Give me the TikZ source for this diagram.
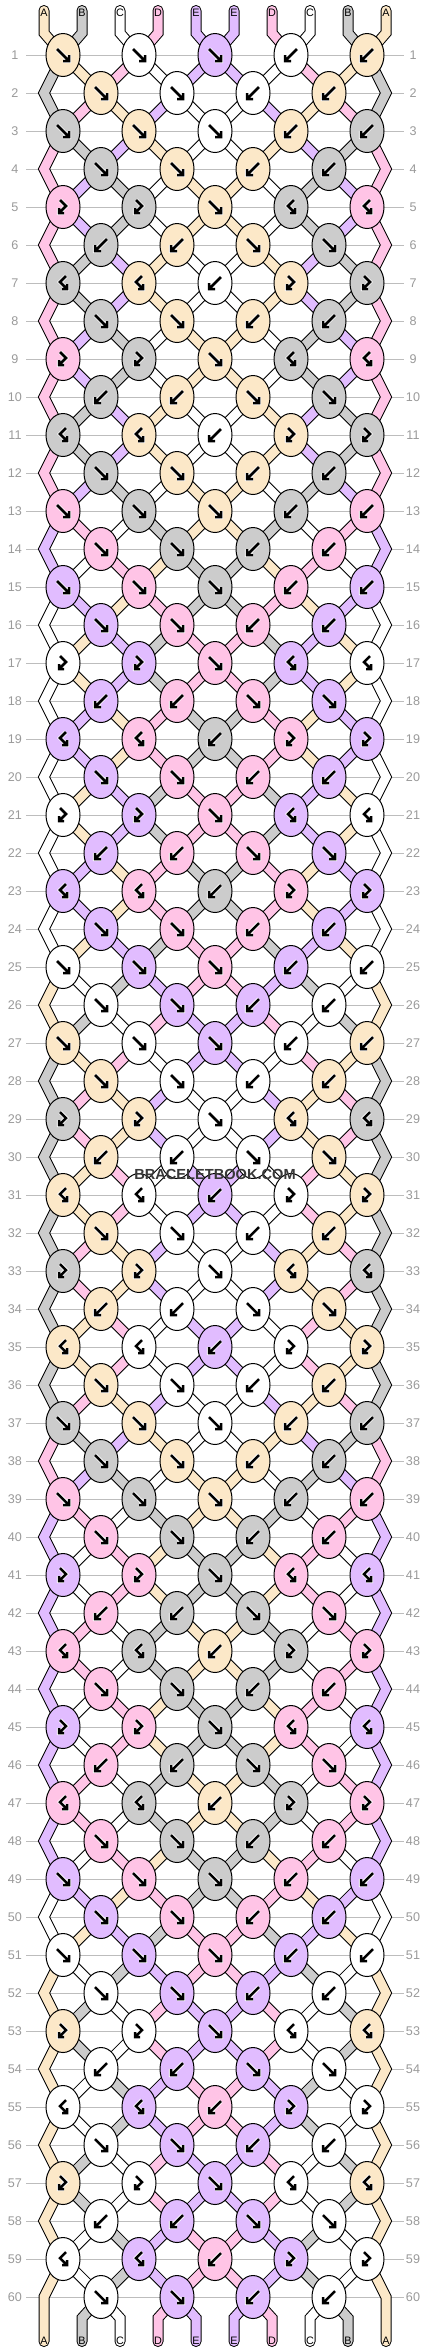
\documentclass[tikz,border=0pt]{standalone}
\usepackage{fontspec}
\setmainfont{Liberation Sans}
\usetikzlibrary{shapes.geometric}
\definecolor{cA}{HTML}{FCE8C8}
\definecolor{cB}{HTML}{CCCCCC}
\definecolor{cC}{HTML}{FFFFFF}
\definecolor{cD}{HTML}{FFC4E6}
\definecolor{cE}{HTML}{E1BCFF}
\definecolor{rowgray}{HTML}{BDBDBD}
\definecolor{numgray}{HTML}{9A9A9A}
\newcommand\arrowpath[1]{\draw[halo] #1; \draw[arr] #1;}
\newcommand\drawarrow[1]{%
  \ifcase#1\relax
  \or \arrowpath{(-6,-6) -- (6,6) (6,0) -- (6,6) -- (0,6)}%
  \or \arrowpath{(6,-6) -- (-6,6) (-6,0) -- (-6,6) -- (0,6)}%
  \or \arrowpath{(-3,-7) -- (3,-1) -- (-4,6) (-4,1) -- (-4,6) -- (1,6)}%
  \or \arrowpath{(3,-7) -- (-3,-1) -- (4,6) (4,1) -- (4,6) -- (-1,6)}%
  \fi}
\newcommand\allbands[1]{%
  \foreach \p in {0,...,9}{%
    \pgfmathtruncatemacro\ja{floor(\p/2)}%
    \edef\segc{\csname s-0-\p\endcsname}%
    \draw[#1=\segc] (top-\p) -- (tb-\p) -- (k-1-\ja);}%
  \foreach \r in {1,...,59}{%
    \pgfmathtruncatemacro\rn{\r+1}%
    \pgfmathtruncatemacro\rodd{mod(\r,2)}%
    \foreach \p in {1,...,8}{%
      \pgfmathtruncatemacro\ja{\rodd==1 ? floor(\p/2) : floor((\p-1)/2)}%
      \pgfmathtruncatemacro\jb{\rodd==1 ? floor((\p-1)/2) : floor(\p/2)}%
      \edef\segc{\csname s-\r-\p\endcsname}%
      \draw[#1=\segc] (k-\r-\ja) -- (k-\rn-\jb);}}%
  \foreach \e in {2,4,...,58}{%
    \pgfmathtruncatemacro\ea{\e-1}\pgfmathtruncatemacro\eb{\e+1}%
    \edef\segc{\csname s-\ea-0\endcsname}%
    \draw[#1=\segc] (k-\ea-0) -- (eL-\e) -- (k-\eb-0);
    \edef\segc{\csname s-\ea-9\endcsname}%
    \draw[#1=\segc] (k-\ea-4) -- (eR-\e) -- (k-\eb-4);}%
  \edef\segc{\csname s-59-0\endcsname}\draw[#1=\segc] (k-59-0) -- (eL-60) -- (bot-0);
  \edef\segc{\csname s-59-9\endcsname}\draw[#1=\segc] (k-59-4) -- (eR-60) -- (bot-9);
  \foreach \p in {1,...,8}{%
    \pgfmathtruncatemacro\ja{floor((\p-1)/2)}%
    \edef\segc{\csname s-60-\p\endcsname}%
    \draw[#1=\segc] (k-60-\ja) -- (bb-\p) -- (bot-\p);}%
}
\begin{document}
\begin{tikzpicture}[x=0.5pt,y=-0.5pt,
  outl/.style={draw=black,line width=5.5pt,line join=miter,line cap=round},
  bandc/.style={draw=c#1,line width=4.5pt,line join=miter,line cap=round},
  knot/.style={ellipse,draw=black,line width=0.5pt,minimum width=17pt,minimum height=21.5pt,inner sep=0pt},
  rowline/.style={draw=rowgray,line width=0.5pt},
  num/.style={text=numgray,font=\fontsize{6.3}{7}\selectfont,inner sep=0pt},
  lab/.style={text=black,font=\fontsize{5.4}{6}\selectfont,inner sep=0pt},
  halo/.style={draw=white,line width=2.1pt,line cap=butt,line join=miter},
  arr/.style={draw=black,line width=1.25pt,line cap=butt,line join=miter}]
\fill[white] (0,0) rectangle (430,2352);
\useasboundingbox (0,0) rectangle (430,2352);
% ---- simulate the threads ----
\foreach \p [count=\i from 0] in {A,B,C,D,E,E,D,C,B,A}{%
  \expandafter\xdef\csname th\i\endcsname{\p}%
  \expandafter\xdef\csname s-0-\i\endcsname{\p}}%
\foreach \r in {1,...,60}{%
  \pgfmathtruncatemacro\mrow{mod(\r-1,12)}%
  \pgfmathtruncatemacro\rodd{mod(\r,2)}%
  \pgfmathtruncatemacro\nk{\rodd==1 ? 4 : 3}%
  \foreach \j in {0,...,\nk}{%
    \pgfmathtruncatemacro\pL{\rodd==1 ? 2*\j : 2*\j+1}%
    \pgfmathtruncatemacro\pR{\pL+1}%
    \ifnum\mrow<4\relax
      \ifnum\rodd=1\relax \pgfmathtruncatemacro\ty{\j<3 ? 1 : 2}%
      \else \pgfmathtruncatemacro\ty{\j<2 ? 1 : 2}\fi
    \else
      \pgfmathtruncatemacro\kcyc{mod(\mrow-4,4)}%
      \ifcase\kcyc\relax
        \pgfmathtruncatemacro\ty{\j<2 ? 3 : (\j==2 ? 1 : 4)}%
      \or \pgfmathtruncatemacro\ty{\j<2 ? 2 : 1}%
      \or \pgfmathtruncatemacro\ty{\j<2 ? 4 : (\j==2 ? 2 : 3)}%
      \or \pgfmathtruncatemacro\ty{\j<2 ? 1 : 2}%
      \fi
    \fi
    \ifodd\ty\relax \edef\kc{\csname th\pL\endcsname}\else \edef\kc{\csname th\pR\endcsname}\fi
    \expandafter\xdef\csname kc-\r-\j\endcsname{\kc}%
    \expandafter\xdef\csname kt-\r-\j\endcsname{\ty}%
    \ifnum\ty<3\relax
      \edef\tmpl{\csname th\pL\endcsname}\edef\tmpr{\csname th\pR\endcsname}%
      \expandafter\xdef\csname th\pL\endcsname{\tmpr}%
      \expandafter\xdef\csname th\pR\endcsname{\tmpl}%
    \fi
  }%
  \foreach \p in {0,...,9}{%
    \expandafter\xdef\csname s-\r-\p\endcsname{\csname th\p\endcsname}}%
}%
% ---- coordinates ----
\foreach \r in {1,...,60}{%
  \pgfmathsetmacro\yy{55+38*(\r-1)}%
  \pgfmathtruncatemacro\rodd{mod(\r,2)}%
  \pgfmathtruncatemacro\nk{\rodd==1 ? 4 : 3}%
  \pgfmathsetmacro\bx{\rodd==1 ? 63 : 101}%
  \foreach \j in {0,...,\nk}{\coordinate (k-\r-\j) at ({\bx+76*\j},\yy);}
  \coordinate (eL-\r) at (44,\yy);
  \coordinate (eR-\r) at (386,\yy);
}
\foreach \p in {0,...,9}{%
  \pgfmathsetmacro\xl{63+76*floor(\p/2)+(mod(\p,2)==1 ? 19 : -19)}%
  \coordinate (top-\p) at (\xl,10.5);
  \coordinate (tb-\p) at (\xl,33);
  \coordinate (bb-\p) at (\xl,2318);
  \coordinate (bot-\p) at (\xl,2341.5);
}
% ---- row lines and numbers ----
\foreach \r in {1,...,60}{%
  \pgfmathsetmacro\yy{55+38*(\r-1)}%
  \draw[rowline] (26,\yy) -- (404,\yy);
  \node[num] (ln-\r) at (15,\yy) {\r};
  \node[num] (rn-\r) at (413,\yy) {\r};
}
% ---- threads ----
\allbands{outl}
\allbands{bandc}
% ---- string labels ----
\foreach \p/\t in {0/A,1/B,2/C,3/D,4/E,5/E,6/D,7/C,8/B,9/A}{%
  \node[lab] (tl-\p) at ([yshift=-2.2*0.5pt]top-\p) {\t};
  \node[lab] (bl-\p) at ([yshift=0.5*0.5pt]bot-\p) {\t};
}
% ---- knots ----
\foreach \r in {1,...,60}{%
  \pgfmathtruncatemacro\rodd{mod(\r,2)}%
  \pgfmathtruncatemacro\nk{\rodd==1 ? 4 : 3}%
  \foreach \j in {0,...,\nk}{%
    \edef\kc{\csname kc-\r-\j\endcsname}%
    \edef\kt{\csname kt-\r-\j\endcsname}%
    \node[knot,fill=c\kc] (n-\r-\j) at (k-\r-\j) {};
    \begin{scope}[shift={(k-\r-\j)}]
      \drawarrow{\kt}
    \end{scope}
  }}
\node[font=\bfseries\fontsize{7.3}{8}\selectfont,text=black!78,inner sep=0pt] (wm) at (215,1174) {BRACELETBOOK.COM};
\end{tikzpicture}
\end{document}
